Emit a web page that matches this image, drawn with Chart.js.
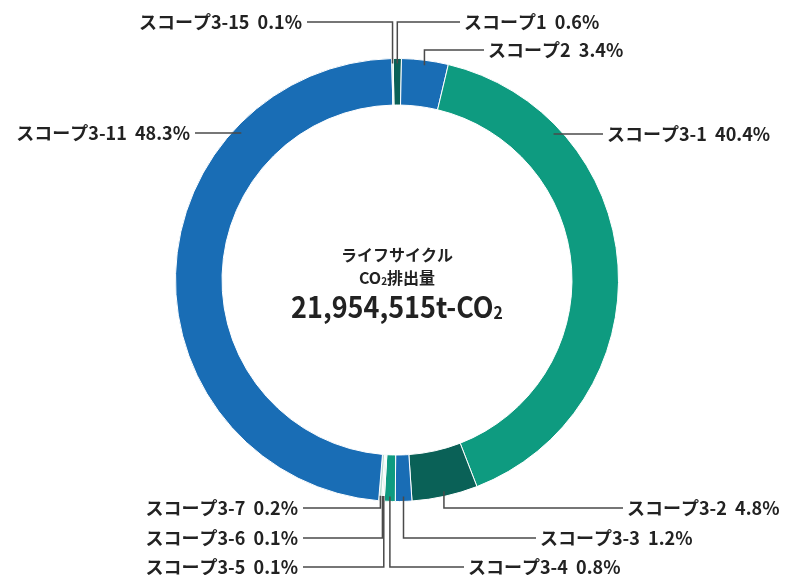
<!DOCTYPE html>
<html lang="ja">
<head>
<meta charset="utf-8">
<title>ライフサイクルCO2排出量</title>
<script src="https://cdn.jsdelivr.net/npm/chart.js@4.4.0/dist/chart.umd.min.js"></script>
<style>
  html, body { margin: 0; padding: 0; background: #fff; }
  #wrap { width: 786px; height: 575px; }
</style>
</head>
<body>
<div id="wrap"><canvas id="co2Chart" width="786" height="575"></canvas></div>
<script>
// Data
const scopeNames = ['スコープ1', 'スコープ2', 'スコープ3-1', 'スコープ3-2', 'スコープ3-3', 'スコープ3-4',
    'スコープ3-5', 'スコープ3-6', 'スコープ3-7', 'スコープ3-11', 'スコープ3-15'];
const scopeShares = [0.6, 3.4, 40.4, 4.8, 1.2, 0.8, 0.1, 0.1, 0.2, 48.3, 0.1];
const totalLabel = '21,954,515';

// Colours
const BLUE = '#196db5';
const TEAL = '#0e9b80';
const DARK = '#0a6157';
const PALE = '#b9ddd2';
const sliceColors = [DARK, BLUE, TEAL, DARK, BLUE, TEAL, PALE, PALE, PALE, BLUE, PALE];

// Label placement (text anchor, alignment, leader style)
const labelLayout = [
    { x: 464, y: 22, align: 'left', mode: 'elbow' },
    { x: 488, y: 50, align: 'left', mode: 'elbow' },
    { x: 607, y: 134, align: 'left', mode: 'straight' },
    { x: 627, y: 508, align: 'left', mode: 'elbow' },
    { x: 540, y: 538, align: 'left', mode: 'elbow' },
    { x: 468, y: 567, align: 'left', mode: 'elbow' },
    { x: 298, y: 567, align: 'right', mode: 'elbow' },
    { x: 298, y: 538, align: 'right', mode: 'elbow' },
    { x: 298, y: 508, align: 'right', mode: 'elbow' },
    { x: 190, y: 133, align: 'right', mode: 'straight' },
    { x: 302, y: 22, align: 'right', mode: 'elbow' }
];

const JP_FONT = '"Noto Sans CJK JP", "Noto Sans", sans-serif';

// Draw text made of normal + subscript parts, centred on cx (squeezed horizontally)
function drawMixed(ctx, parts, cx, y, size, squeeze) {
    let width = 0;
    parts.forEach(p => {
        ctx.font = `bold ${p.sub ? Math.round(size * 0.6) : size}px ${JP_FONT}`;
        width += ctx.measureText(p.t).width;
    });
    ctx.save();
    ctx.translate(cx, y);
    ctx.scale(squeeze, 1);
    let x = -width / 2;
    ctx.textAlign = 'left';
    ctx.textBaseline = 'middle';
    parts.forEach(p => {
        ctx.font = `bold ${p.sub ? Math.round(size * 0.6) : size}px ${JP_FONT}`;
        ctx.fillText(p.t, x, p.sub ? size * 0.18 : 0);
        x += ctx.measureText(p.t).width;
    });
    ctx.restore();
}

const labelPlugin = {
    id: 'scopeLabels',
    afterDraw(chart) {
        const ctx = chart.ctx;
        const arcs = chart.getDatasetMeta(0).data;
        if (!arcs.length) return;
        const cx = arcs[0].x;
        const cy = arcs[0].y;
        const outer = arcs[0].outerRadius;

        ctx.save();
        // centre text
        ctx.fillStyle = '#222';
        drawMixed(ctx, [{ t: 'ライフサイクル' }], cx, 255, 16, 1);
        drawMixed(ctx, [{ t: 'CO' }, { t: '2', sub: true }, { t: '排出量' }], cx, 278, 16, 1);
        drawMixed(ctx, [{ t: totalLabel + 't-CO' }, { t: '2', sub: true }], cx, 307, 29, 0.93);

        // leader lines + labels
        ctx.strokeStyle = '#4a4a4a';
        ctx.lineWidth = 1.5;
        arcs.forEach((arc, i) => {
            const pos = labelLayout[i];
            const gap = pos.align === 'left' ? -4 : 5;
            const lineEndX = pos.x + gap;
            ctx.beginPath();
            if (pos.mode === 'elbow') {
                const mid = (arc.startAngle + arc.endAngle) / 2;
                const ax = cx + (outer - 5) * Math.cos(mid);
                const ay = cy + (outer - 5) * Math.sin(mid);
                ctx.moveTo(ax, ay);
                ctx.lineTo(ax, pos.y);
                ctx.lineTo(lineEndX, pos.y);
            } else {
                const dy = pos.y - cy;
                const dx = Math.sqrt(outer * outer - dy * dy);
                const ringX = pos.align === 'left' ? cx + dx - 10 : cx - dx + 10;
                ctx.moveTo(ringX, pos.y);
                ctx.lineTo(lineEndX, pos.y);
            }
            ctx.stroke();

            ctx.fillStyle = '#222';
            ctx.font = `bold 18px ${JP_FONT}`;
            ctx.textAlign = pos.align;
            ctx.textBaseline = 'middle';
            ctx.fillText(`${scopeNames[i]}  ${scopeShares[i].toFixed(1)}%`, pos.x, pos.y);
        });
        ctx.restore();
    }
};

const co2Chart = new Chart(document.getElementById('co2Chart').getContext('2d'), {
    type: 'doughnut',
    data: {
        labels: scopeNames,
        datasets: [{
            data: scopeShares,
            backgroundColor: sliceColors,
            borderColor: '#ffffff',
            borderWidth: 1
        }]
    },
    options: {
        responsive: false,
        animation: false,
        cutout: '79%',
        rotation: -1,
        layout: { padding: { left: 175, right: 167, top: 58, bottom: 73 } },
        plugins: {
            legend: { display: false },
            tooltip: { enabled: false }
        }
    },
    plugins: [labelPlugin]
});
</script>
</body>
</html>
